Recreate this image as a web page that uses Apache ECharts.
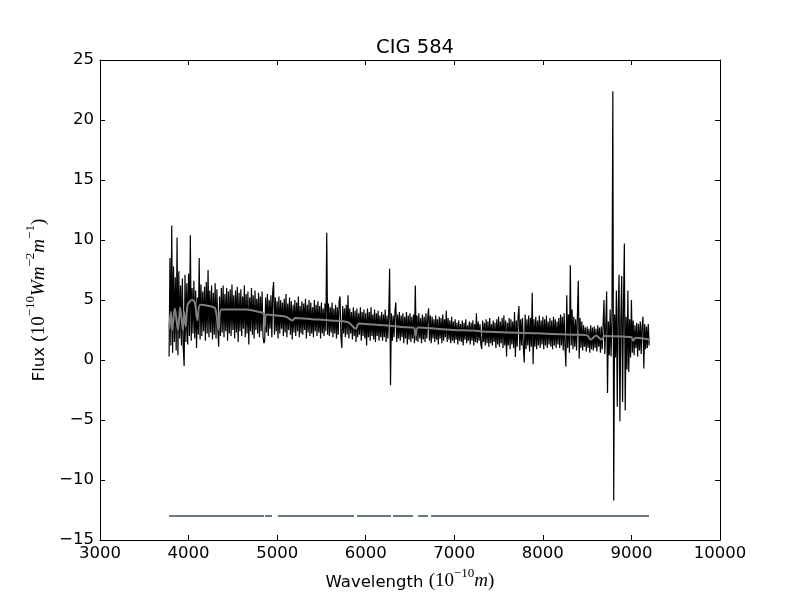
<!DOCTYPE html>
<html>
<head>
<meta charset="utf-8">
<script src="https://cdn.jsdelivr.net/npm/echarts@6/dist/echarts.min.js"></script>
<style>
  html, body { margin: 0; padding: 0; background: #fff; }
  #chart { width: 800px; height: 600px; }
</style>
</head>
<body>
<div id="chart"></div>
<script>
// observed spectrum, regular grid from 3780 in steps of 10
var waveStart = 3780;
var waveStep = 10;
var flux = [
    // 3780
    0.3, 8.5, 1.2, 11.2, 0.6, 7.8, 1.5, 6.9, 0.8, 10.2,
    0.4, 7.4, 1.8, 6.2, 1.2, 6.8, 1.0, -0.5, 7.1, 1.5,
    // 3980
    6.4, 1.3, 7.2, 2.0, 10.4, 1.6, 6.0, 2.2, 6.6, 1.8,
    5.8, 1.0, 5.2, 2.1, 8.5, 1.7, 6.3, 2.0, 5.7, 2.4,
    // 4180
    6.1, 1.6, 6.5, 2.2, 7.5, 1.9, 5.8, 2.3, 6.2, 1.7,
    5.6, 2.1, 6.4, 1.8, 5.9, 2.5, 1.1, 5.3, 2.0, 6.0,
    // 4380
    2.3, 6.2, 1.9, 5.5, 2.4, 6.0, 1.6, 5.7, 2.2, 5.9,
    2.0, 6.3, 2.5, 5.4, 1.8, 5.8, 2.3, 6.1, 1.5, 5.6,
    // 4580
    2.4, 5.9, 2.0, 5.3, 2.6, 6.2, 1.9, 5.5, 2.2, 5.7,
    1.3, 5.2, 2.4, 6.0, 2.1, 5.4, 1.8, 5.8, 2.5, 5.1,
    // 4780
    2.2, 5.6, 1.9, 5.3, 2.4, 5.7, 2.0, 1.4, 1.6, 5.2,
    2.3, 5.5, 2.0, 5.0, 2.6, 5.4, 1.9, 5.7, 6.5, 2.1,
    // 4980
    5.2, 2.4, 4.9, 1.8, 5.3, 2.2, 5.0, 2.6, 4.8, 2.0,
    5.1, 2.3, 5.5, 1.9, 4.7, 2.5, 5.2, 2.1, 4.9, 1.7,
    // 5180
    4.6, 2.3, 5.0, 2.0, 4.8, 2.4, 5.3, 1.9, 4.5, 2.2,
    4.9, 2.1, 4.7, 2.5, 5.1, 1.8, 4.6, 2.3, 5.0, 2.0,
    // 5380
    4.8, 2.2, 4.4, 1.9, 5.0, 2.4, 4.6, 2.0, 4.9, 2.3,
    4.5, 1.8, 4.8, 2.2, 4.3, 2.0, 4.7, 2.4, 10.6, 2.1,
    // 5580
    4.7, 2.0, 4.4, 2.3, 4.8, 1.9, 4.3, 2.2, 4.6, 1.8,
    4.4, 2.1, 4.9, 5.3, 2.0, 1.0, 4.5, 2.2, 4.3, 1.9,
    // 5780
    4.6, 2.1, 5.4, 1.8, 4.3, 2.2, 4.0, 1.7, 4.4, 2.0,
    4.1, 1.5, 4.3, 1.9, 3.9, 2.1, 4.4, 1.6, 4.0, 2.0,
    // 5980
    4.2, 1.8, 3.9, 1.2, 4.3, 1.9, 4.0, 1.6, 4.4, 2.0,
    3.8, 1.7, 4.2, 1.5, 3.9, 2.0, 4.1, 1.6, 3.7, 1.9,
    // 6180
    4.0, 1.6, 3.8, 1.9, 4.2, 1.5, 3.7, 1.8, 4.0, 7.6,
    -2.1, 3.9, 1.6, 3.7, 1.9, 4.1, 4.8, 1.5, 3.8, 1.8,
    // 6380
    4.0, 1.6, 3.7, 1.9, 3.9, 1.4, 3.6, 1.8, 4.0, 1.3,
    3.7, 1.7, 3.9, 1.5, 3.6, 1.8, 3.8, 1.4, 6.2, 1.6,
    // 6580
    3.7, 1.5, 3.9, 1.8, 3.5, 1.4, 3.8, 1.7, 3.6, 1.5,
    3.9, 1.8, 3.5, 4.3, 1.6, 3.7, 1.4, 3.6, 1.8, 3.4,
    // 6780
    1.5, 3.7, 1.7, 3.4, 1.3, 3.6, 1.8, 3.5, 1.4, 3.8,
    1.6, 3.4, 1.9, 4.1, 1.5, 3.5, 1.7, 3.3, 1.4, 3.6,
    // 6980
    1.6, 3.2, 1.4, 3.4, 1.7, 3.1, 1.3, 3.3, 1.6, 3.0,
    1.5, 3.3, 1.2, 3.1, 1.7, 3.4, 1.4, 2.9, 1.6, 3.2,
    // 7180
    1.3, 3.1, 1.6, 3.3, 1.2, 3.0, 1.5, 3.9, 1.4, 3.2,
    1.6, 3.0, 1.3, 0.9, 3.3, 1.5, 3.1, 1.2, 3.4, 1.4,
    // 7380
    3.2, 1.1, 3.5, 1.4, 3.0, 1.2, 3.3, 1.5, 3.1, 1.0,
    3.4, 1.3, 3.6, 1.1, 3.2, 1.4, 3.5, 1.0, 3.7, 1.2,
    // 7580
    3.3, 0.3, 3.1, 1.2, 3.5, 0.9, 3.4, 1.3, 3.2, 1.0,
    4.0, 0.25, 3.3, 1.1, 3.6, 4.5, 0.8, 3.4, 1.2, 3.5,
    // 7780
    1.0, -0.2, 3.8, 0.9, 3.4, 1.2, 3.7, 0.7, 3.5, 1.1,
    5.6, -0.35, 3.4, 1.1, 3.6, 0.9, 3.3, 1.2, 3.7, 1.0,
    // 7980
    3.3, 1.3, 3.6, 0.9, 3.4, 1.2, 3.7, 1.0, 3.2, 1.3,
    3.5, 1.1, 3.3, 0.9, 3.6, 1.2, 3.4, 1.0, 3.2, 1.3,
    // 8180
    3.5, 1.0, 3.8, 1.2, 3.6, 0.8, 3.9, 1.1, -0.55, 5.4,
    1.0, 3.8, 0.6, 7.9, 1.2, 4.2, 0.9, 3.6, 1.1, 3.4,
    // 8380
    0.8, 3.7, 6.6, 0.1, 3.5, 1.0, 3.2, 0.8, 2.9, 1.1,
    2.7, 0.7, 2.8, 1.0, 2.6, 0.6, 2.9, 0.9, 2.7, 0.8,
    // 8580
    2.8, 1.0, 2.6, 0.7, 2.9, 1.1, 2.7, 0.6, 2.8, 0.9,
    2.9, 5.0, 0.5, 2.8, 5.7, -2.75, 3.2, 0.4, 4.2, 0.3,
    // 8780
    3.5, 22.4, -11.7, 3.8, 0.2, 5.8, -3.9, 4.1, 7.1, -5.1,
    3.2, 7.0, -3.5, 4.5, 9.7, -4.2, 3.6, -0.8, 5.8, -1.0,
    // 8980
    3.4, 0.2, 5.0, 0.6, 3.3, 0.4, 2.9, 1.0, 3.1, 0.3,
    3.0, 0.8, 3.2, 0.5, 2.8, 3.6, -0.7, 3.0, 0.9, 2.8,
    // 9180
    1.0, 3.0, 1.2
];

// fitted model (grey)
var modelWave = [3780, 3800, 3815, 3845, 3880, 3905, 3935, 3950, 3968, 3990,
    4040, 4070, 4100, 4130, 4230, 4300, 4340, 4370, 4500, 4650,
    4800, 4845, 4861, 4880, 5000, 5100, 5175, 5200, 5400, 5600,
    5800, 5890, 5920, 6000, 6200, 6400, 6540, 6563, 6590, 6800,
    7000, 7200, 7400, 7600, 7800, 8000, 8200, 8400, 8500, 8542,
    8600, 8662, 8700, 8900, 9000, 9020, 9050, 9200];
var modelFlux = [2.6, 4.0, 2.5, 4.3, 2.5, 4.4, 2.5, 4.0, 2.8, 4.6,
    5.0, 4.8, 3.3, 4.6, 4.5, 4.3, 2.5, 4.2, 4.2, 4.2,
    4.0, 3.9, 2.8, 3.8, 3.7, 3.6, 3.3, 3.5, 3.4, 3.3,
    3.15, 2.6, 3.05, 3.0, 2.9, 2.75, 2.7, 2.0, 2.7, 2.6,
    2.5, 2.45, 2.35, 2.3, 2.25, 2.2, 2.15, 2.1, 2.05, 1.7,
    2.05, 1.7, 2.0, 1.95, 1.9, 1.6, 1.85, 1.7];

// masked regions shown as a line at the bottom
var maskStart = [3780, 4863, 5010, 5902, 6308, 6590, 6737];
var maskEnd = [4852, 4942, 5868, 6286, 6534, 6703, 9198];
var maskLevel = -13;

var xTicks = { min: 3000, max: 10000, interval: 1000 };
var yTicks = { min: -15, max: 25, interval: 5 };

var specData = flux.map(function (v, i) {
    return [waveStart + i * waveStep, v];
});
var modelData = modelWave.map(function (w, i) {
    return [w, modelFlux[i]];
});
var maskData = [];
for (var k = 0; k < maskStart.length; k++) {
    if (k > 0) {
        maskData.push([maskStart[k] - 1, '-']);
    }
    maskData.push([maskStart[k], maskLevel]);
    maskData.push([maskEnd[k], maskLevel]);
}

var minus = function (v) {
    return String(v).replace('-', '\u2212');
};

var mathRich = {
    t: { fontFamily: 'DejaVu Sans', fontSize: 16.5, color: '#000', lineHeight: 24, verticalAlign: 'bottom' },
    m: { fontFamily: 'Liberation Serif', fontSize: 19, color: '#000', lineHeight: 24, verticalAlign: 'bottom' },
    i: { fontFamily: 'Liberation Serif', fontStyle: 'italic', fontSize: 19, color: '#000', lineHeight: 24, verticalAlign: 'bottom' },
    s: { fontFamily: 'Liberation Serif', fontSize: 13, color: '#000', lineHeight: 24, verticalAlign: 'top' }
};

var axisBase = {
    type: 'value',
    splitLine: { show: false },
    axisLine: { show: true, onZero: false, lineStyle: { color: '#000', width: 1 } },
    axisTick: { show: true, inside: true, length: 5, lineStyle: { color: '#000' } }
};

var chart = echarts.init(document.getElementById('chart'));

var option = {
    animation: false,
    backgroundColor: '#fff',
    title: {
        text: 'CIG 584',
        left: 410,
        top: 33,
        textAlign: 'center',
        textStyle: { fontFamily: 'DejaVu Sans', fontSize: 19.5, fontWeight: 'normal', color: '#000' }
    },
    grid: { left: 100, right: 80, top: 60, bottom: 60 },
    xAxis: [
        Object.assign({}, axisBase, {
            position: 'bottom',
            min: xTicks.min, max: xTicks.max, interval: xTicks.interval,
            axisLabel: {
                color: '#000', fontFamily: 'DejaVu Sans', fontSize: 16.5, margin: 5,
                formatter: function (v) { return String(v); }
            },
            name: '{t|Wavelength }{m|(10}{s|\u221210}{i|m}{m|)}',
            nameLocation: 'middle',
            nameGap: 22,
            nameTextStyle: { rich: mathRich }
        }),
        Object.assign({}, axisBase, {
            position: 'top',
            min: xTicks.min, max: xTicks.max, interval: xTicks.interval,
            axisLabel: { show: false }
        })
    ],
    yAxis: [
        Object.assign({}, axisBase, {
            position: 'left',
            min: yTicks.min, max: yTicks.max, interval: yTicks.interval,
            axisLabel: { color: '#000', fontFamily: 'DejaVu Sans', fontSize: 16.5, margin: 6, formatter: minus },
            name: '{t|Flux }{m|(10}{s|\u221210}{i|Wm}{s|\u22122}{i|m}{s|\u22121}{m|)}',
            nameLocation: 'middle',
            nameRotate: 90,
            nameGap: 46,
            nameTextStyle: { rich: mathRich }
        }),
        Object.assign({}, axisBase, {
            position: 'right',
            min: yTicks.min, max: yTicks.max, interval: yTicks.interval,
            axisLabel: { show: false }
        })
    ],
    series: [
        {
            name: 'spectrum',
            type: 'line',
            data: specData,
            showSymbol: false,
            sampling: null,
            lineStyle: { color: '#000', width: 1.2 },
            z: 2
        },
        {
            name: 'model',
            type: 'line',
            data: modelData,
            showSymbol: false,
            smooth: 0.3,
            lineStyle: { color: '#808080', width: 2 },
            z: 3
        },
        {
            name: 'mask',
            type: 'line',
            data: maskData,
            showSymbol: false,
            connectNulls: false,
            lineStyle: { color: '#6a7880', width: 2 },
            z: 3
        }
    ]
};

chart.setOption(option);
</script>
</body>
</html>
